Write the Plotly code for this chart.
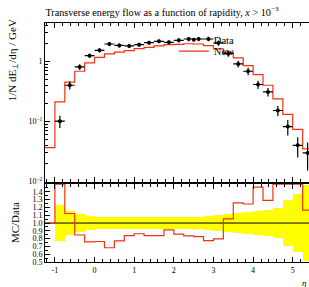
import plotly.graph_objects as go

# ---- data ----
bin_edges = [-1.25, -1.0, -0.75, -0.5, -0.25, 0.0, 0.25, 0.5, 0.75, 1.0, 1.25, 1.5, 1.75,
             2.0, 2.25, 2.5, 2.75, 3.0, 3.25, 3.5, 3.75, 4.0, 4.25, 4.5, 4.75, 5.0, 5.25, 5.5]
data_vals = [None, 0.101, 0.40, 0.807, 1.24, 1.52, 1.94, 1.84, 1.80, 1.89, 2.04, 2.15, 2.07,
             2.23, 2.35, 2.35, 2.35, 2.02, 1.34, 0.905, 0.683, 0.411, 0.31, 0.152, 0.082, 0.040, 0.030]
data_relerr = [None, 0.23, 0.15, 0.11, 0.085, 0.08, 0.08, 0.08, 0.078, 0.075, 0.075, 0.075, 0.075,
               0.078, 0.08, 0.08, 0.085, 0.10, 0.115, 0.13, 0.143, 0.16, 0.165, 0.19, 0.29, 0.37, 0.49]
mc_vals = [0.0366, 0.212, 0.449, 0.683, 0.94, 1.16, 1.325, 1.42, 1.51, 1.63, 1.71, 1.80, 1.89,
           1.91, 1.96, 1.94, 1.82, 1.61, 1.41, 1.14, 0.85, 0.60, 0.40, 0.238, 0.131, 0.074, 0.035]
x_tick_vals = [-1, 0, 1, 2, 3, 4, 5]
ratio_tick_vals = [0.5, 0.6, 0.7, 0.8, 0.9, 1.0, 1.1, 1.2, 1.3, 1.4]
ratio_tick_text = ["0.5", "0.6", "0.7", "0.8", "0.9", "1.0", "1.1", "1.2", "1.3", "1.4"]
main_tick_vals = [0.01, 0.1, 1]
main_tick_text = ["10<sup>\u22122</sup>", "10<sup>\u22121</sup>", "1"]

# ---- derived ----
centers = [(bin_edges[i] + bin_edges[i + 1]) / 2 for i in range(len(bin_edges) - 1)]
halfw = [(bin_edges[i + 1] - bin_edges[i]) / 2 for i in range(len(bin_edges) - 1)]
idx = [i for i, v in enumerate(data_vals) if v is not None]
dx = [centers[i] for i in idx]
dy = [data_vals[i] for i in idx]
derr = [data_vals[i] * data_relerr[i] for i in idx]
dxe = [halfw[i] for i in idx]

ratio = []
for i, m in enumerate(mc_vals):
    if data_vals[i] is None:
        ratio.append(1.0)
    else:
        ratio.append(min(max(m / data_vals[i], 0.5), 1.5))

RED = "#ee3311"
FONT = "Liberation Serif"

fig = go.Figure()

fig.add_trace(go.Scatter(
    x=bin_edges, y=mc_vals + [mc_vals[-1]], mode="lines", line_shape="hv",
    line=dict(color=RED, width=1.2), name="New", xaxis="x", yaxis="y",
    legend="legend2"))

fig.add_trace(go.Scatter(
    x=dx, y=dy, mode="markers", name="Data", xaxis="x", yaxis="y",
    marker=dict(color="black", size=4),
    error_y=dict(type="data", array=derr, color="black", thickness=1.2, width=0),
    error_x=dict(type="data", array=dxe, color="black", thickness=1.2, width=0),
    legend="legend"))

fig.add_trace(go.Bar(
    x=[centers[i] for i in idx], y=[2 * data_relerr[i] for i in idx],
    base=[1 - data_relerr[i] for i in idx], width=[2 * halfw[i] for i in idx],
    marker=dict(color="#ffff00", line=dict(width=0)), xaxis="x2", yaxis="y2",
    showlegend=False, hoverinfo="skip"))

fig.add_trace(go.Scatter(
    x=[bin_edges[0], bin_edges[-1]], y=[1, 1], mode="lines",
    line=dict(color="black", width=1), xaxis="x2", yaxis="y2", showlegend=False))

fig.add_trace(go.Scatter(
    x=bin_edges, y=ratio + [ratio[-1]], mode="lines", line_shape="hv",
    line=dict(color=RED, width=1.2), xaxis="x2", yaxis="y2", showlegend=False))

xr = [-1.25, 5.41]
minor_x = dict(ticks="inside", dtick=0.2, tick0=0, ticklen=3, tickcolor="black")
main_minor = [k * 10 ** e for e in (-2, -1, 0) for k in range(2, 10) if k * 10 ** e < 4.4]

L, T, B = 45.4, 23.3, 24.5
PH = 287 - T - B
PW = 309 - L


def px_x(px):
    return (px - L) / PW


def px_y(py):
    return 1 - (py - T) / PH


legend_common = dict(xanchor="left", yanchor="middle", bgcolor="rgba(0,0,0,0)",
                     itemwidth=30, font=dict(family=FONT, size=10.5))

fig.update_layout(
    width=309, height=287,
    margin=dict(l=L, r=0, t=T, b=B, autoexpand=False),
    paper_bgcolor="white", plot_bgcolor="white",
    font=dict(family=FONT, size=8, color="black"),
    bargap=0, barmode="overlay",
    title=dict(text="Transverse energy flow as a function of rapidity, <i>x</i> > 10<sup>\u22123</sup>",
               x=L / 309, xanchor="left", y=1 - 12 / 287, yanchor="middle",
               font=dict(family=FONT, size=10.2)),
    xaxis=dict(domain=[0, 1], anchor="y", range=xr, showticklabels=False, automargin=False,
               tickvals=x_tick_vals, ticks="inside", ticklen=5, tickcolor="black",
               minor=minor_x, showline=True, linecolor="black", linewidth=1,
               mirror="ticks", showgrid=False, zeroline=False),
    yaxis=dict(domain=[(287 - B - 182) / PH, 1], anchor="x", type="log", range=[-2, 0.637],
               automargin=False,
               tickvals=main_tick_vals, ticktext=main_tick_text, ticks="inside",
               ticklen=5, tickcolor="black",
               minor=dict(ticks="inside", tickvals=main_minor, ticklen=3, tickcolor="black"),
               showline=True, linecolor="black", linewidth=1, showgrid=False, zeroline=False),
    xaxis2=dict(domain=[0, 1], anchor="y2", range=xr, matches="x", automargin=False,
                tickvals=x_tick_vals, ticktext=["-1", "0", "1", "2", "3", "4", "5"],
                ticks="inside", ticklen=5, tickcolor="black", minor=minor_x,
                showline=True, linecolor="black", linewidth=1, mirror="ticks",
                showgrid=False, zeroline=False),
    yaxis2=dict(domain=[0, (262.5 - 184.5) / PH], anchor="x2", range=[0.5, 1.5],
                automargin=False,
                tickvals=ratio_tick_vals, ticktext=ratio_tick_text, ticks="inside",
                ticklen=5, tickcolor="black",
                minor=dict(ticks="inside", dtick=0.05, tick0=0, ticklen=3, tickcolor="black"),
                showline=True, linecolor="black", linewidth=1, showgrid=False, zeroline=False),
    legend=dict(x=px_x(174), y=px_y(40), **legend_common),
    legend2=dict(x=px_x(174), y=px_y(51.5), **legend_common),
    annotations=[
        dict(text="<i>\u03b7</i>", x=px_x(305), y=px_y(284),
             xref="paper", yref="paper", showarrow=False,
             font=dict(family=FONT, size=9), xanchor="center", yanchor="middle"),
        dict(text="1/N dE<sub>\u22a5</sub>/d\u03b7 / GeV", x=px_x(13), y=px_y(18),
             xref="paper", yref="paper", showarrow=False, textangle=-90,
             font=dict(family=FONT, size=11), xanchor="center", yanchor="top"),
        dict(text="MC/Data", x=px_x(15), y=px_y(223),
             xref="paper", yref="paper", showarrow=False, textangle=-90,
             font=dict(family=FONT, size=11), xanchor="center", yanchor="middle"),
    ],
)

fig.write_html("out.html", config={"displayModeBar": False},
               post_script="document.body.style.margin='0px';document.body.style.overflow='hidden';")
